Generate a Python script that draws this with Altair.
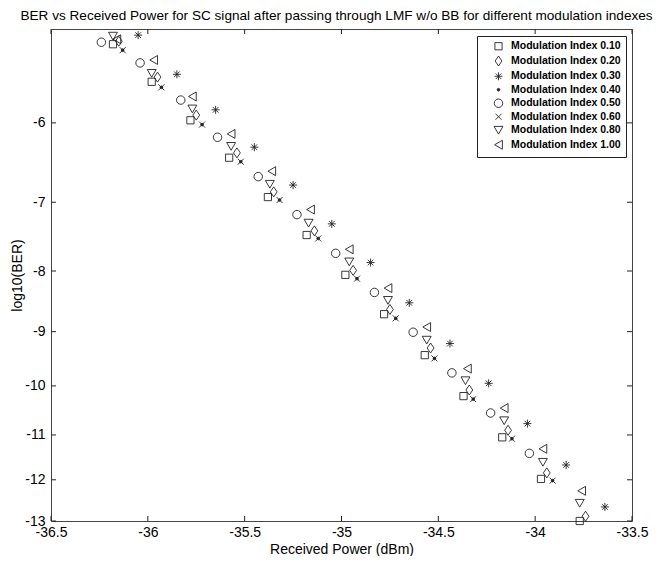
import altair as alt
import pandas as pd

labels = ["Modulation Index 0.10", "Modulation Index 0.20", "Modulation Index 0.30",
          "Modulation Index 0.40", "Modulation Index 0.50", "Modulation Index 0.60",
          "Modulation Index 0.80", "Modulation Index 1.00"]

x_010 = [-36.18, -35.98, -35.78, -35.58, -35.38, -35.18, -34.98, -34.78, -34.57, -34.37, -34.17, -33.97, -33.77]
y_010 = [-5.15, -5.54, -5.97, -6.42, -6.93, -7.46, -8.06, -8.70, -9.42, -10.20, -11.05, -11.98, -13.00]

x_020 = [-36.15, -35.95, -35.75, -35.54, -35.35, -35.14, -34.94, -34.75, -34.54, -34.34, -34.14, -33.94, -33.74]
y_020 = [-5.12, -5.49, -5.91, -6.36, -6.86, -7.40, -7.99, -8.62, -9.29, -10.08, -10.90, -11.84, -12.88]

x_030 = [-36.05, -35.85, -35.65, -35.45, -35.25, -35.05, -34.85, -34.65, -34.44, -34.24, -34.04, -33.84, -33.64]
y_030 = [-5.06, -5.46, -5.85, -6.29, -6.77, -7.30, -7.87, -8.51, -9.21, -9.95, -10.76, -11.66, -12.65]

x_040 = [-36.13, -35.93, -35.72, -35.52, -35.32, -35.12, -34.92, -34.72, -34.52, -34.32, -34.12, -33.91]
y_040 = [-5.21, -5.60, -6.02, -6.47, -6.97, -7.51, -8.12, -8.77, -9.48, -10.26, -11.08, -12.02]

x_050 = [-36.24, -36.04, -35.83, -35.64, -35.43, -35.23, -35.03, -34.83, -34.63, -34.43, -34.23, -34.03]
y_050 = [-5.13, -5.34, -5.74, -6.17, -6.66, -7.17, -7.73, -8.34, -9.01, -9.75, -10.54, -11.40]

x_060 = [-36.13, -35.93, -35.72, -35.52, -35.32, -35.12, -34.92, -34.72, -34.52, -34.32, -34.12, -33.91]
y_060 = [-5.21, -5.60, -6.02, -6.47, -6.97, -7.51, -8.12, -8.77, -9.48, -10.26, -11.08, -12.02]

x_080 = [-36.18, -35.98, -35.77, -35.57, -35.37, -35.17, -34.96, -34.76, -34.56, -34.36, -34.16, -33.96, -33.77]
y_080 = [-5.07, -5.45, -5.84, -6.28, -6.76, -7.29, -7.86, -8.47, -9.15, -9.90, -10.70, -11.60, -12.56]

x_100 = [-36.16, -35.97, -35.77, -35.57, -35.36, -35.16, -34.96, -34.76, -34.56, -34.35, -34.16, -33.96, -33.76]
y_100 = [-5.10, -5.31, -5.70, -6.13, -6.59, -7.10, -7.67, -8.27, -8.92, -9.67, -10.44, -11.30, -12.26]

x_ticks = [-36.5, -36.0, -35.5, -35.0, -34.5, -34.0, -33.5]
y_ticks = [-6, -7, -8, -9, -10, -11, -12, -13]

title_text = "BER vs Received Power for SC signal after passing through LMF w/o BB for different modulation indexes"

series_x = [x_010, x_020, x_030, x_040, x_050, x_060, x_080, x_100]
series_y = [y_010, y_020, y_030, y_040, y_050, y_060, y_080, y_100]

rows = []
for lab, xs, ys in zip(labels, series_x, series_y):
    for xv, yv in zip(xs, ys):
        rows.append({"series": lab, "power": xv, "ber": yv})
df = pd.DataFrame(rows)

ASTERISK = "M0,-1L0,1M-1,0L1,0M-0.7,-0.7L0.7,0.7M-0.7,0.7L0.7,-0.7"
XMARK = "M-1,-1L1,1M-1,1L1,-1"
DIAMOND = "M0,-1L0.68,0L0,1L-0.68,0Z"
shapes = ["square", DIAMOND, ASTERISK, "circle", "circle", XMARK, "triangle-down", "triangle-left"]
fills = ["transparent", "transparent", "transparent", "#222", "transparent", "transparent", "transparent", "transparent"]
sizes = [52, 100, 64, 7, 72, 36, 80, 80]

W, H = 581, 492
FONT = "Liberation Sans"
MINUS = "'-' + format(-datum.value, '~g')"

x_enc = alt.X("power:Q",
              scale=alt.Scale(domain=[-36.5, -33.5], nice=False, zero=False),
              axis=alt.Axis(values=x_ticks, title="Received Power (dBm)", labelExpr=MINUS,
                            ticks=False, domain=False, grid=False, labelPadding=4,
                            titlePadding=3, labelFlush=False))
y_enc = alt.Y("ber:Q",
              scale=alt.Scale(type="log", domain=[-13, -5], nice=False, zero=False),
              axis=alt.Axis(values=y_ticks, title="log10(BER)", labelExpr=MINUS,
                            ticks=False, domain=False, grid=False, labelPadding=6,
                            titleX=-27, titleY=H / 2, titleAngle=270, titleBaseline="bottom",
                            labelFlush=False))

leg = alt.Legend(title=None, orient="none", legendX=426, legendY=7)

points = alt.Chart(df).mark_point(filled=False, color="#222", strokeWidth=0.9, opacity=1).encode(
    x=x_enc,
    y=y_enc,
    shape=alt.Shape("series:N", scale=alt.Scale(domain=labels, range=shapes), legend=leg),
    fill=alt.Fill("series:N", scale=alt.Scale(domain=labels, range=fills), legend=leg),
    size=alt.Size("series:N", scale=alt.Scale(type="ordinal", domain=labels, range=sizes), legend=leg),
)

ydf = pd.DataFrame({"ber": y_ticks})
xdf = pd.DataFrame({"power": x_ticks})
tick_style = dict(color="#222", strokeWidth=1)
left_t = alt.Chart(ydf).mark_rule(**tick_style).encode(y=y_enc, x=alt.value(0), x2=alt.value(5))
right_t = alt.Chart(ydf).mark_rule(**tick_style).encode(y=y_enc, x=alt.value(W), x2=alt.value(W - 5))
bot_t = alt.Chart(xdf).mark_rule(**tick_style).encode(x=x_enc, y=alt.value(H), y2=alt.value(H - 5))
top_t = alt.Chart(xdf).mark_rule(**tick_style).encode(x=x_enc, y=alt.value(0), y2=alt.value(5))

tdf = pd.DataFrame({"t": [title_text]})
title_mark = alt.Chart(tdf).mark_text(
    font=FONT, fontSize=13.6, color="black", align="center", baseline="middle"
).encode(text="t:N", x=alt.value(W / 2 - 5), y=alt.value(-13))

chart = alt.layer(left_t, right_t, bot_t, top_t, points, title_mark).properties(
    width=W, height=H,
    padding={"left": 43, "top": 21, "right": 21, "bottom": 35},
    autosize=alt.AutoSizeParams(type="none"),
).configure_view(
    stroke="#444", strokeWidth=1
).configure_axis(
    labelFont=FONT, labelFontSize=14, labelColor="black",
    titleFont=FONT, titleFontSize=14, titleFontWeight="normal", titleColor="black"
).configure_legend(
    labelFont=FONT, labelFontSize=10.5, labelFontWeight="bold", labelColor="black",
    fillColor="white", strokeColor="#222", padding=5, rowPadding=1.5,
    symbolOffset=11, labelOffset=7, symbolStrokeWidth=0.9, cornerRadius=0
)

chart.save("out.html", embed_options={"renderer": "svg", "actions": False})
